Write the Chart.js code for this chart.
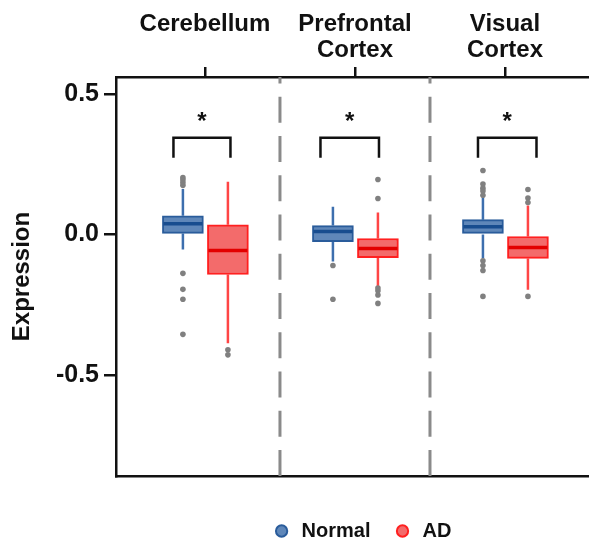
<!DOCTYPE html>
<html>
<head>
<meta charset="utf-8">
<script src="https://cdn.jsdelivr.net/npm/chart.js@4/dist/chart.umd.min.js"></script>
<style>
  html, body { margin: 0; padding: 0; background: #fff; }
  #wrap { width: 589px; height: 547px; }
</style>
</head>
<body>
<div id="wrap"><canvas id="myChart"></canvas></div>
<script>
const REGIONS = [['Cerebellum', ''], ['Prefrontal', 'Cortex'], ['Visual', 'Cortex']]
const Y_TICKS = [-0.5, 0, 0.5]

// box plot stats per region (whisker low, q1, median, q3, whisker high)
const NORMAL_LOW = [-0.053, -0.096, -0.085]
const NORMAL_Q1 = [0.004, -0.025, 0.0]
const NORMAL_MEDIAN = [0.038, 0.011, 0.028]
const NORMAL_Q3 = [0.067, 0.032, 0.053]
const NORMAL_HIGH = [0.162, 0.099, 0.13]
const NORMAL_OUTLIERS = [
  [0.175, 0.185, 0.195, 0.203, -0.138, -0.195, -0.23, -0.355],
  [-0.11, -0.23],
  [0.228, 0.18, 0.165, 0.155, 0.14, -0.093, -0.11, -0.128, -0.22],
]

const AD_LOW = [-0.387, -0.185, -0.196]
const AD_Q1 = [-0.142, -0.082, -0.085]
const AD_MEDIAN = [-0.057, -0.05, -0.046]
const AD_Q3 = [0.035, -0.014, -0.007]
const AD_HIGH = [0.188, 0.078, 0.103]
const AD_OUTLIERS = [
  [-0.41, -0.428],
  [0.196, 0.128, -0.19, -0.2, -0.215, -0.245],
  [0.16, 0.13, 0.114, -0.22],
]

// significance brackets
const BRACKET_LEFT = [0.79, 1.77, 2.82]
const BRACKET_RIGHT = [1.17, 2.16, 3.21]
const BRACKET_TOP = 0.344
const BRACKET_BOTTOM = 0.273
const STAR_Y = 0.377
const SEPARATORS = [1.5, 2.5]

const X_MIN = 0.407
const X_MAX = 3.56
const Y_MIN = -0.859
const Y_MAX = 0.5605

const LEGEND_DX = 67
const LEGEND_DY = 4

const groups = [
  {
    label: 'Normal', offset: -0.147,
    low: NORMAL_LOW, q1: NORMAL_Q1, median: NORMAL_MEDIAN, q3: NORMAL_Q3, high: NORMAL_HIGH,
    outliers: NORMAL_OUTLIERS,
    fill: '#5f87b9', border: '#2a5c9b', whisker: '#3d6fae', medianColor: '#184d8f',
  },
  {
    label: 'AD', offset: 0.153,
    low: AD_LOW, q1: AD_Q1, median: AD_MEDIAN, q3: AD_Q3, high: AD_HIGH,
    outliers: AD_OUTLIERS,
    fill: '#f36b6b', border: '#ff2020', whisker: '#ff4545', medianColor: '#e30000',
  },
]

const boxExtras = {
  id: 'boxExtras',
  beforeDatasetsDraw(chart) {
    const { ctx, chartArea } = chart
    const x = chart.scales.x
    const y = chart.scales.y
    ctx.save()
    ctx.strokeStyle = '#8a8a8a'
    ctx.lineWidth = 3
    ctx.setLineDash([26, 13.25])
    SEPARATORS.forEach(v => {
      const px = x.getPixelForValue(v)
      ctx.beginPath()
      ctx.moveTo(px, chartArea.bottom)
      ctx.lineTo(px, chartArea.top)
      ctx.stroke()
    })
    ctx.setLineDash([])
    groups.forEach(g => {
      ctx.strokeStyle = g.whisker
      ctx.lineWidth = 2.5
      g.low.forEach((lo, i) => {
        const px = x.getPixelForValue(i + 1 + g.offset)
        ctx.beginPath()
        ctx.moveTo(px, y.getPixelForValue(lo))
        ctx.lineTo(px, y.getPixelForValue(g.q1[i]))
        ctx.moveTo(px, y.getPixelForValue(g.q3[i]))
        ctx.lineTo(px, y.getPixelForValue(g.high[i]))
        ctx.stroke()
      })
    })
    ctx.restore()
  },
  afterDatasetsDraw(chart) {
    const { ctx } = chart
    const x = chart.scales.x
    const y = chart.scales.y
    ctx.save()
    groups.forEach((g, gi) => {
      const meta = chart.getDatasetMeta(gi)
      ctx.strokeStyle = g.medianColor
      ctx.lineWidth = 3.5
      g.median.forEach((m, i) => {
        const bar = meta.data[i]
        const half = bar.width / 2 - 1
        const py = y.getPixelForValue(m)
        ctx.beginPath()
        ctx.moveTo(bar.x - half, py)
        ctx.lineTo(bar.x + half, py)
        ctx.stroke()
      })
    })
    ctx.strokeStyle = '#111'
    ctx.lineWidth = 2.5
    ctx.fillStyle = '#111'
    ctx.font = 'bold 24px "Liberation Sans", Arial, sans-serif'
    ctx.textAlign = 'center'
    ctx.textBaseline = 'alphabetic'
    const top = y.getPixelForValue(BRACKET_TOP)
    const bottom = y.getPixelForValue(BRACKET_BOTTOM)
    BRACKET_LEFT.forEach((l, i) => {
      const x1 = x.getPixelForValue(l)
      const x2 = x.getPixelForValue(BRACKET_RIGHT[i])
      ctx.beginPath()
      ctx.moveTo(x1, bottom)
      ctx.lineTo(x1, top)
      ctx.lineTo(x2, top)
      ctx.lineTo(x2, bottom)
      ctx.stroke()
      ctx.fillText('*', (x1 + x2) / 2, y.getPixelForValue(STAR_Y))
    })
    ctx.restore()
  },
  afterLayout(chart) {
    const lg = chart.legend
    lg.left += LEGEND_DX
    lg.right += LEGEND_DX
    lg.top += LEGEND_DY
    lg.bottom += LEGEND_DY
  },
}

const boxDatasets = groups.map(g => ({
  type: 'bar',
  label: g.label,
  data: g.q1.map((q, i) => ({ x: i + 1 + g.offset, y: [q, g.q3[i]] })),
  backgroundColor: g.fill,
  borderColor: g.border,
  borderWidth: 2,
  borderSkipped: false,
  barThickness: 41,
  grouped: false,
}))

const outlierDatasets = groups.map(g => ({
  type: 'scatter',
  label: g.label + ' outliers',
  data: g.outliers.flatMap((vals, i) => vals.map(v => ({ x: i + 1 + g.offset, y: v }))),
  pointRadius: 2.8,
  pointBackgroundColor: '#808080',
  pointBorderWidth: 0,
}))

const font = (size) => ({ family: '"Liberation Sans", Arial, sans-serif', size, weight: 'bold' })

const config = {
  type: 'bar',
  data: { datasets: [...boxDatasets, ...outlierDatasets] },
  plugins: [boxExtras],
  options: {
    responsive: true,
    maintainAspectRatio: false,
    animation: false,
    layout: { padding: 0, autoPadding: false },
    plugins: {
      tooltip: { enabled: false },
      legend: {
        position: 'bottom',
        labels: {
          filter: item => item.text === 'Normal' || item.text === 'AD',
          usePointStyle: true,
          pointStyle: 'circle',
          boxWidth: 20,
          boxHeight: 8,
          padding: 22,
          color: '#111',
          font: font(20),
        },
      },
    },
    scales: {
      x: {
        type: 'linear',
        position: 'top',
        offset: false,
        min: X_MIN,
        max: X_MAX,
        afterBuildTicks: a => { a.ticks = REGIONS.map((_, i) => ({ value: i + 1 })) },
        afterFit: a => { a.height = 77 },
        ticks: {
          callback: (v, i) => REGIONS[i],
          color: '#111',
          font: { ...font(24), lineHeight: 1.1 },
          padding: 3,
          maxRotation: 0,
          autoSkip: false,
        },
        grid: { offset: false, drawOnChartArea: false, tickLength: 10, color: '#111', lineWidth: 2.5 },
        border: { color: '#111', width: 2.5 },
      },
      xb: {
        type: 'linear',
        position: 'bottom',
        offset: false,
        min: X_MIN,
        max: X_MAX,
        afterFit: a => { a.height = 19 },
        ticks: { display: false },
        grid: { display: false, offset: false },
        border: { color: '#111', width: 2.5 },
      },
      y: {
        min: Y_MIN,
        max: Y_MAX,
        afterBuildTicks: a => { a.ticks = Y_TICKS.map(v => ({ value: v })) },
        afterFit: a => { a.width = 116 },
        ticks: {
          callback: v => v.toFixed(1),
          color: '#111',
          font: font(25),
          padding: 5,
        },
        grid: { drawOnChartArea: false, tickLength: 12, color: '#111', lineWidth: 2.5 },
        border: { color: '#111', width: 2.5 },
        title: {
          display: true,
          text: 'Expression',
          color: '#111',
          font: font(24),
          padding: { top: 8, bottom: 0 },
        },
      },
    },
  },
}

const myChart = new Chart(document.getElementById('myChart'), config)
</script>
</body>
</html>
